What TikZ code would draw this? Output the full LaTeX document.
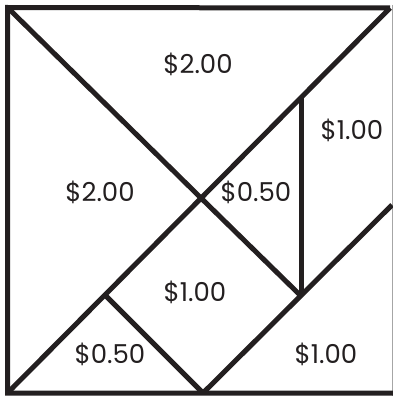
\documentclass[tikz,border=0pt]{standalone}
\usepackage{fontspec}
\setmainfont{Poppins}
\definecolor{ink}{HTML}{231F20}
\begin{document}
\begin{tikzpicture}[x=1pt,y=-1pt,
  edge/.style={line width=5pt,ink,line join=miter},
  price/.style={font=\fontsize{26}{28}\selectfont,text=ink,anchor=base,inner sep=0pt}]
\useasboundingbox (0,0) rectangle (393,396);
\coordinate (TL) at (7.5,7.5);
\coordinate (TR) at (390,8);
\coordinate (BL) at (7.5,393);
\coordinate (BR) at (393,393);
\coordinate (O) at (203,200);
\coordinate (P) at (301,296);
\coordinate (Q) at (301,98);
\coordinate (R) at (105,295);
\coordinate (S) at (203,393);
\coordinate (E) at (392,205);
% right edge (thin)
\draw[gray!70,line width=1pt] (392,5) -- (392,396);
% outer frame
\draw[edge] (TR) -- (TL) -- (BL) -- (BR);
% diagonals
\draw[edge] (BL) -- (TR);
\draw[edge] (TL) -- (O) -- (P);
\draw[edge] (Q) -- (P);
\draw[edge] (S) -- (E);
\draw[edge] (R) -- (S);
% labels
\node[price] (l1) at (198,74) {\$2.00};
\node[price] (l2) at (100,201) {\$2.00};
\node[price] (l3) at (256,201) {\$0.50};
\node[price] (l4) at (352,139) {\$1.00};
\node[price] (l5) at (195,301) {\$1.00};
\node[price] (l6) at (110,363) {\$0.50};
\node[price] (l7) at (326,363) {\$1.00};
\end{tikzpicture}
\end{document}
